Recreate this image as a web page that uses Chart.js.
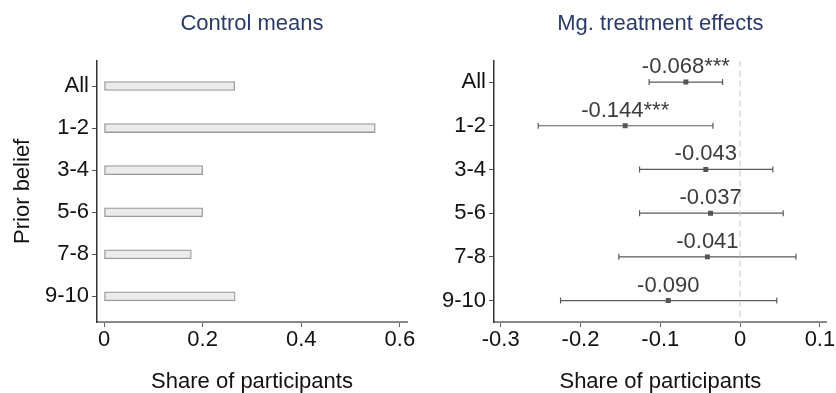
<!DOCTYPE html>
<html>
<head>
<meta charset="utf-8">
<script src="https://cdn.jsdelivr.net/npm/chart.js@4.4.1/dist/chart.umd.min.js"></script>
<style>
  html, body { margin: 0; padding: 0; background: #ffffff; }
  #wrap { position: relative; width: 836px; height: 393px; overflow: hidden; }
  canvas { position: absolute; top: 0; }
  #left { left: 0; }
  #right { left: 418px; }
</style>
</head>
<body>
<div id="wrap">
  <canvas id="left" width="418" height="393"></canvas>
  <canvas id="right" width="418" height="393"></canvas>
</div>
<script>
// Prior-belief groups, top to bottom
const groups = ['All', '1-2', '3-4', '5-6', '7-8', '9-10'];

// Control group means (share of participants)
const controlMeans = [0.265, 0.550, 0.200, 0.200, 0.177, 0.266];

// Treatment effect estimates with confidence bounds
const effects = [-0.068, -0.144, -0.043, -0.037, -0.041, -0.090];
const ciLow   = [-0.114, -0.253, -0.126, -0.126, -0.152, -0.225];
const ciHigh  = [-0.022, -0.034,  0.041,  0.054,  0.070,  0.046];
const stars   = ['***', '***', '', '', '', ''];

// Axis tick values
const leftTicks  = [0, 0.2, 0.4, 0.6];
const rightTicks = [-0.3, -0.2, -0.1, 0, 0.1];

const FONT = "'Liberation Sans', Arial, Helvetica, sans-serif";
Chart.defaults.font.family = FONT;
Chart.defaults.font.size = 22;
Chart.defaults.color = '#111111';
Chart.defaults.animation = false;

const TITLE_COLOR = '#2b3b67';

// Panel heading centred over the plotting area
const panelTitle = {
  id: 'panelTitle',
  afterDraw(chart, args, opts) {
    const { ctx, chartArea } = chart;
    ctx.save();
    ctx.font = '22px ' + FONT;
    ctx.fillStyle = TITLE_COLOR;
    ctx.textAlign = 'center';
    ctx.textBaseline = 'alphabetic';
    ctx.fillText(opts.text, (chartArea.left + chartArea.right) / 2, 29.8);
    ctx.restore();
  }
};

function yScale(width, min, max, withTitle) {
  return {
    type: 'linear',
    reverse: true,
    offset: false,
    min: min,
    max: max,
    afterBuildTicks: s => { s.ticks = groups.map((g, i) => ({ value: i })); },
    afterFit: s => { s.width = width; },
    ticks: {
      callback: v => groups[v],
      padding: 3,
      color: '#111111',
      font: { size: 22 }
    },
    grid: { offset: false, drawOnChartArea: false, drawTicks: true, tickLength: 5, color: '#555555', lineWidth: 1 },
    border: { display: true, color: '#333333', width: 1.5 },
    title: withTitle ? {
      display: true,
      text: 'Prior belief',
      color: '#111111',
      font: { size: 22, lineHeight: 1 },
      padding: { top: 12, bottom: 0 }
    } : { display: false }
  };
}

function xScale(min, max, tickVals) {
  return {
    type: 'linear',
    min: min,
    max: max,
    offset: false,
    afterBuildTicks: s => { s.ticks = tickVals.map(v => ({ value: v })); },
    afterFit: s => { s.height = 71; },
    ticks: {
      callback: v => String(v),
      padding: 0,
      maxRotation: 0,
      color: '#111111',
      font: { size: 22 }
    },
    grid: { offset: false, drawOnChartArea: false, drawTicks: true, tickLength: 5, color: '#666666', lineWidth: 1 },
    border: { display: true, color: '#8a8a8a', width: 2 },
    title: {
      display: true,
      text: 'Share of participants',
      color: '#111111',
      font: { size: 22, lineHeight: 1 },
      padding: { top: 0, bottom: 0 }
    }
  };
}

// Left panel: control means as horizontal bars
new Chart(document.getElementById('left'), {
  type: 'bar',
  data: {
    datasets: [{
      data: controlMeans.map((v, i) => ({ x: v, y: i })),
      backgroundColor: '#ebebeb',
      borderColor: '#999999',
      borderWidth: 1.3,
      borderSkipped: false,
      barThickness: 9
    }]
  },
  options: {
    indexAxis: 'y',
    responsive: false,
    devicePixelRatio: 1,
    layout: { padding: { left: 0, right: 11, top: 60.7, bottom: 0 } },
    plugins: {
      legend: { display: false },
      tooltip: { enabled: false },
      title: { display: false },
      panelTitle: { text: 'Control means' }
    },
    scales: {
      x: xScale(-0.0142, 0.6144, leftTicks),
      y: yScale(97, -0.602, 5.61, true)
    }
  },
  plugins: [panelTitle]
});

// Error bars and value labels for the treatment-effect panel
const errorBars = {
  id: 'errorBars',
  beforeDatasetsDraw(chart) {
    const { ctx, scales: { x, y } } = chart;
    ctx.save();
    ctx.strokeStyle = '#5a5a5a';
    ctx.lineWidth = 1.2;
    effects.forEach((e, i) => {
      const py = y.getPixelForValue(i);
      const x0 = x.getPixelForValue(ciLow[i]);
      const x1 = x.getPixelForValue(ciHigh[i]);
      ctx.beginPath();
      ctx.moveTo(x0, py); ctx.lineTo(x1, py);
      ctx.moveTo(x0, py - 3); ctx.lineTo(x0, py + 3);
      ctx.moveTo(x1, py - 3); ctx.lineTo(x1, py + 3);
      ctx.stroke();
    });
    ctx.restore();
  },
  afterDatasetsDraw(chart) {
    const { ctx, scales: { x, y } } = chart;
    ctx.save();
    ctx.font = '22px ' + FONT;
    ctx.fillStyle = '#3c3c3c';
    ctx.textAlign = 'center';
    ctx.textBaseline = 'alphabetic';
    effects.forEach((e, i) => {
      const px = x.getPixelForValue(e);
      const py = y.getPixelForValue(i);
      ctx.fillText(e.toFixed(3) + stars[i], px, py - 9);
    });
    ctx.restore();
  }
};

// Right panel: point estimates with confidence intervals
new Chart(document.getElementById('right'), {
  type: 'scatter',
  data: {
    datasets: [
      {
        type: 'line',
        data: [{ x: 0, y: -0.488 }, { x: 0, y: 5.49 }],
        borderColor: '#c4c4c4',
        borderWidth: 1,
        borderDash: [6, 4],
        pointRadius: 0,
        fill: false
      },
      {
        data: effects.map((v, i) => ({ x: v, y: i })),
        pointStyle: 'rect',
        pointRadius: 3.5,
        backgroundColor: '#555555',
        borderColor: '#555555',
        borderWidth: 0
      }
    ]
  },
  options: {
    responsive: false,
    devicePixelRatio: 1,
    layout: { padding: { left: 0, right: 9.3, top: 60.7, bottom: 0 } },
    plugins: {
      legend: { display: false },
      tooltip: { enabled: false },
      title: { display: false },
      panelTitle: { text: 'Mg. treatment effects' }
    },
    scales: {
      x: xScale(-0.3084, 0.1085, rightTicks),
      y: yScale(76, -0.488, 5.49, false)
    }
  },
  plugins: [errorBars, panelTitle]
});
</script>
</body>
</html>
